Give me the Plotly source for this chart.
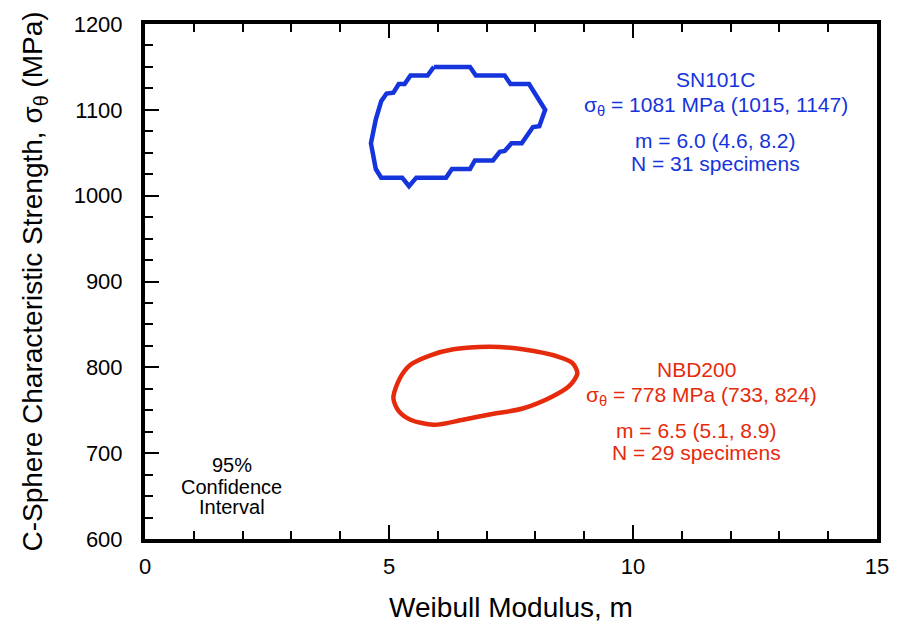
import plotly.graph_objects as go

# SN101C 95% confidence contour (Weibull modulus m, characteristic strength MPa)
sn101c_m = [5.92, 6.66, 6.78, 7.37, 7.49, 7.87, 8.20, 8.08, 7.95, 7.72, 7.51, 7.37, 7.27,
            7.13, 6.76, 6.66, 6.29, 6.17, 5.56, 5.41, 5.27, 4.84, 4.73, 4.63, 4.73, 4.84,
            4.95, 5.09, 5.20, 5.32, 5.44, 5.79, 5.92]
sn101c_s = [1150, 1150, 1140, 1140, 1130, 1130, 1100, 1081, 1080, 1061, 1061, 1052, 1051,
            1041, 1041, 1031, 1031, 1021, 1021, 1011, 1021, 1021, 1031, 1061, 1089, 1110,
            1119, 1120, 1130, 1130, 1140, 1140, 1150]

# NBD200 95% confidence contour
nbd200_m = [5.09, 5.22, 5.44, 5.85, 6.32, 7.06, 7.74, 8.49, 8.76, 8.86, 8.69, 8.35, 7.74,
            7.06, 6.52, 5.92, 5.44, 5.20, 5.09]
nbd200_s = [764, 787, 803, 814, 821, 824, 821, 812, 805, 793, 778, 766, 752, 745, 739, 733,
            739, 749, 764]

blue = "#1634dc"
red = "#e62a0c"
font_family = "Liberation Sans, Arial, Helvetica, sans-serif"

fig = go.Figure()
fig.add_trace(go.Scatter(x=sn101c_m, y=sn101c_s, mode="lines",
                         line=dict(color=blue, width=4.5), showlegend=False))
fig.add_trace(go.Scatter(x=nbd200_m, y=nbd200_s, mode="lines",
                         line=dict(color=red, width=4.5, shape="spline", smoothing=0.8),
                         showlegend=False))

def note(text, x, y, color, size=21):
    fig.add_annotation(text=text, x=x, y=y, xref="x", yref="y", showarrow=False,
                       font=dict(color=color, size=size, family=font_family),
                       xanchor="center", yanchor="middle")

# SN101C text
note("SN101C", 11.7, 1135, blue)
note("σ<sub>θ</sub> = 1081 MPa (1015, 1147)", 11.7, 1104, blue)
note("m = 6.0 (4.6, 8.2)", 11.7, 1064, blue)
note("N = 31 specimens", 11.7, 1038, blue)
# NBD200 text
note("NBD200", 11.3, 798, red)
note("σ<sub>θ</sub> = 778 MPa (733, 824)", 11.4, 767, red)
note("m = 6.5 (5.1, 8.9)", 11.3, 726, red)
note("N = 29 specimens", 11.3, 701, red)
# confidence label
note("95%", 1.78, 686, "black", 20)
note("Confidence", 1.78, 661, "black", 20)
note("Interval", 1.78, 637, "black", 20)

fig.update_layout(
    width=901, height=631,
    margin=dict(l=145, r=17, t=23, b=92),
    paper_bgcolor="white", plot_bgcolor="white",
    font=dict(family=font_family, color="black", size=20),
    xaxis=dict(range=[0, 15], dtick=5, tick0=0, showgrid=False, zeroline=False,
               showline=True, linecolor="black", linewidth=4, mirror="allticks",
               ticks="inside", ticklen=14, tickwidth=2, tickcolor="black",
               minor=dict(dtick=1, ticks="inside", ticklen=8, tickwidth=2, tickcolor="black",
                          showgrid=False),
               tickfont=dict(size=22), ticklabelstandoff=5,
               title=dict(text="Weibull Modulus, m", font=dict(size=28), standoff=20)),
    yaxis=dict(range=[600, 1200], dtick=100, tick0=600, showgrid=False, zeroline=False,
               showline=True, linecolor="black", linewidth=4, mirror=True,
               ticks="inside", ticklen=14, tickwidth=2, tickcolor="black",
               minor=dict(dtick=25, ticks="inside", ticklen=8, tickwidth=2, tickcolor="black",
                          showgrid=False),
               tickfont=dict(size=22), ticklabelstandoff=14,
               title=dict(text="C-Sphere Characteristic Strength, σ<sub>θ</sub> (MPa)",
                          font=dict(size=28), standoff=24)),
)

fig.write_html("out.html")
